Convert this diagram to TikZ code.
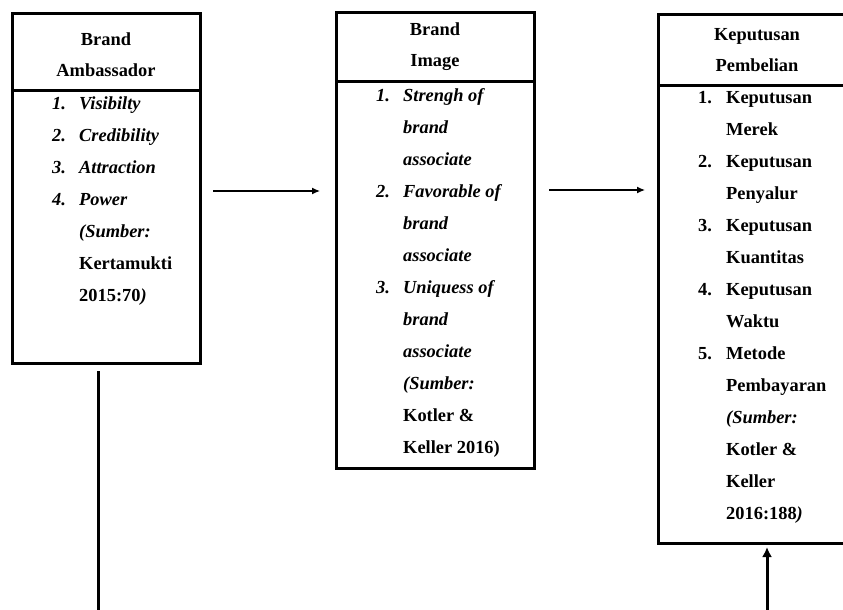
\documentclass[tikz,border=0pt]{standalone}
\usepackage{fontspec}
\setmainfont{Liberation Serif}
\usetikzlibrary{arrows.meta}

\begin{document}
\begin{tikzpicture}[x=1pt,y=-1pt,
  headbox/.style={draw,line width=3pt,anchor=north west,align=center,inner sep=0pt,outer sep=0pt,
    font=\fontsize{18.4}{31}\selectfont\bfseries},
  bodybox/.style={draw,line width=3pt,anchor=north,inner sep=0pt,outer sep=0pt},
  itemlist/.style={anchor=north west,inner sep=0pt,font=\fontsize{18.4}{32}\selectfont\bfseries},
  thinarrow/.style={line width=1.2pt,-{Latex[length=8pt,width=7pt]}},
  thickline/.style={line width=3pt},
  thickarrow/.style={line width=3pt,-{Latex[length=10pt,width=10pt]}}]
\useasboundingbox (0,0) rectangle (843,610);
\clip (0,0) rectangle (843,610);
% Brand Ambassador
\node[headbox,minimum width=188pt,minimum height=76pt] (ambHead) at (12,14) {\rule{0pt}{19pt}Brand\\Ambassador};
\node[bodybox,minimum width=188pt,minimum height=273pt] (ambBody) at (ambHead.south) {};
\node[itemlist] (ambList) at ([xshift=40pt,yshift=3.3pt]ambBody.north west) {%
  \begin{tabular}{@{}p{27pt}@{}l@{}}
  \textit{1.} & \textit{Visibilty}\\
  \textit{2.} & \textit{Credibility}\\
  \textit{3.} & \textit{Attraction}\\
  \textit{4.} & \textit{Power}\\
   & \textit{(Sumber:}\\
   & Kertamukti\\
   & 2015:70\textit{)}
  \end{tabular}};
% Brand Image
\node[headbox,minimum width=198pt,minimum height=68pt] (imgHead) at (336,13) {Brand\\Image};
\node[bodybox,minimum width=198pt,minimum height=387pt] (imgBody) at (imgHead.south) {};
\node[itemlist] (imgList) at ([xshift=40pt,yshift=2.3pt]imgBody.north west) {%
  \begin{tabular}{@{}p{27pt}@{}l@{}}
  \textit{1.} & \textit{Strengh of}\\
   & \textit{brand}\\
   & \textit{associate}\\
  \textit{2.} & \textit{Favorable of}\\
   & \textit{brand}\\
   & \textit{associate}\\
  \textit{3.} & \textit{Uniquess of}\\
   & \textit{brand}\\
   & \textit{associate}\\
   & \textit{(Sumber:}\\
   & Kotler \&\\
   & Keller 2016)
  \end{tabular}};
% Keputusan Pembelian
\node[headbox,minimum width=198pt,minimum height=70pt] (kepHead) at (658,15) {Keputusan\\Pembelian};
\node[bodybox,minimum width=198pt,minimum height=458pt] (kepBody) at (kepHead.south) {};
\node[itemlist] (kepList) at ([xshift=40pt,yshift=4.3pt]kepBody.north west) {%
  \begin{tabular}{@{}p{28pt}@{}l@{}}
  1. & Keputusan\\
   & Merek\\
  2. & Keputusan\\
   & Penyalur\\
  3. & Keputusan\\
   & Kuantitas\\
  4. & Keputusan\\
   & Waktu\\
  5. & Metode\\
   & Pembayaran\\
   & \textit{(Sumber:}\\
   & Kotler \&\\
   & Keller\\
   & 2016:188\textit{)}
  \end{tabular}};
% connectors
\coordinate (ambFoot) at (98,612);
\coordinate (kepFoot) at (767,612);
\draw[thinarrow] ([xshift=13pt,yshift=-101pt]ambBody.north east) -- ([xshift=-16pt,yshift=-110pt]imgBody.north west);
\draw[thinarrow] ([xshift=15pt,yshift=-109pt]imgBody.north east) -- ([xshift=-13pt,yshift=-105pt]kepBody.north west);
\draw[thickline] ([xshift=-8pt,yshift=-8pt]ambBody.south) -- (ambFoot);
\draw[thickarrow] (kepFoot) -- ([xshift=10pt,yshift=-4pt]kepBody.south);
\end{tikzpicture}
\end{document}
